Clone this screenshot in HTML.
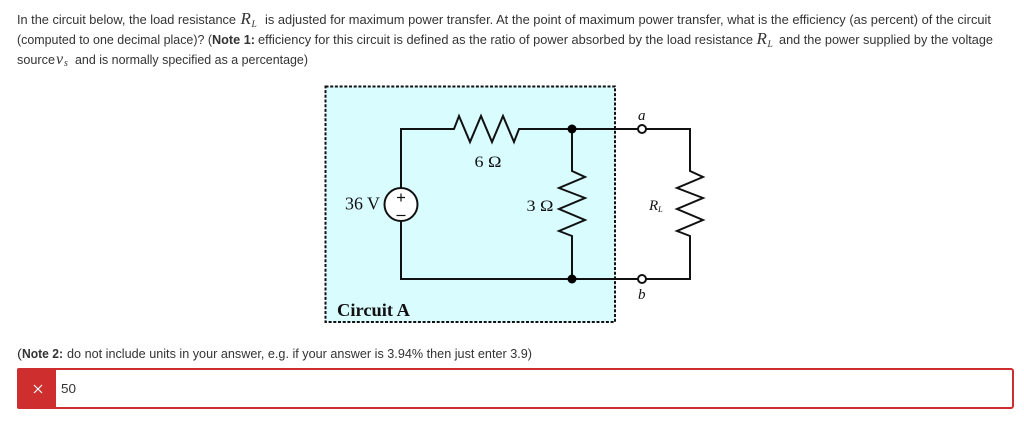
<!DOCTYPE html>
<html>
<head>
<meta charset="utf-8">
<style>
html,body{margin:0;padding:0;background:#fff;width:1024px;height:428px;overflow:hidden}
svg{display:block}
.t{font-family:"Liberation Sans",sans-serif;font-size:13px;fill:#333}
.b{font-weight:bold}
.m{font-family:"Liberation Serif",serif;font-style:italic;fill:#333}
.c{font-family:"Liberation Serif",serif;fill:#111}
.w{fill:none;stroke:#111;stroke-width:2;stroke-linejoin:miter}
</style>
</head>
<body>
<svg width="1024" height="428" viewBox="0 0 1024 428" xmlns="http://www.w3.org/2000/svg">
<rect width="1024" height="428" fill="#fff"/>

<text class="t" x="17" y="24" textLength="219" lengthAdjust="spacingAndGlyphs">In the circuit below, the load resistance</text>
<text class="m" x="240.500" y="24" font-size="17">R</text><text class="m" x="251.500" y="27" font-size="9.500">L</text>
<text class="t" x="265" y="24" textLength="726" lengthAdjust="spacingAndGlyphs">is adjusted for maximum power transfer. At the point of maximum power transfer, what is the efficiency (as percent) of the circuit</text>

<text class="t" x="17" y="44" textLength="195" lengthAdjust="spacingAndGlyphs">(computed to one decimal place)? (</text>
<text class="t b" x="212" y="44" textLength="43" lengthAdjust="spacingAndGlyphs">Note 1:</text>
<text class="t" x="258" y="44" textLength="495" lengthAdjust="spacingAndGlyphs">efficiency for this circuit is defined as the ratio of power absorbed by the load resistance</text>
<text class="m" x="756.500" y="44" font-size="17">R</text><text class="m" x="767.500" y="47" font-size="9.500">L</text>
<text class="t" x="779" y="44" textLength="214" lengthAdjust="spacingAndGlyphs">and the power supplied by the voltage</text>

<text class="t" x="17" y="64" textLength="38" lengthAdjust="spacingAndGlyphs">source</text>
<text class="m" x="56" y="64" font-size="16">v</text><text class="m" x="64" y="66" font-size="10">s</text>
<text class="t" x="75" y="64" textLength="233" lengthAdjust="spacingAndGlyphs">and is normally specified as a percentage)</text>

<!-- Circuit box -->
<rect x="325.500" y="86.500" width="289.500" height="235.500" fill="#d9fcff"/>
<rect x="325.500" y="86.500" width="289.500" height="235.500" fill="none" stroke="#111" stroke-width="2" stroke-dasharray="3 1.700"/>

<!-- Wires -->
<path class="w" d="M401 188V129H454L459 116L470 142L481 116L492 142L503 116L514 142L519 129H638"/>
<path class="w" d="M646 129H690V171L703 177L677 188L703 198L677 209L703 220L677 231L690 236V279H646"/>
<path class="w" d="M638 279H401V221"/>
<path class="w" d="M572 129V171L585 177L559 188L585 198L559 209L585 220L559 231L572 236V279"/>
<circle cx="572" cy="129" r="4.500" fill="#000"/>
<circle cx="572" cy="279" r="4.500" fill="#000"/>
<circle cx="642" cy="129" r="4" fill="#fff" stroke="#111" stroke-width="2"/>
<circle cx="642" cy="279" r="4" fill="#fff" stroke="#111" stroke-width="2"/>

<!-- Source -->
<circle cx="401" cy="204.500" r="16.500" fill="#fff" stroke="#111" stroke-width="2"/>
<path d="M397 197.500H405M401 193.500V201.500" stroke="#111" stroke-width="1.200" fill="none"/>
<path d="M396.500 215.500H405.500" stroke="#111" stroke-width="1.200" fill="none"/>

<!-- Labels -->
<text class="c" x="345" y="209.500" font-size="17.500" textLength="35" lengthAdjust="spacingAndGlyphs">36 V</text>
<text class="c" x="474.500" y="167" font-size="16" textLength="27" lengthAdjust="spacingAndGlyphs">6 Ω</text>
<text class="c" x="526.500" y="211" font-size="16" textLength="27" lengthAdjust="spacingAndGlyphs">3 Ω</text>
<text class="m" x="638" y="120" font-size="15" style="fill:#111">a</text>
<text class="m" x="638" y="299" font-size="15" style="fill:#111">b</text>
<text class="m" x="649" y="210" font-size="15" style="fill:#111">R</text>
<text class="m" x="658" y="212" font-size="8.500" style="fill:#111">L</text>
<text class="c" x="337" y="316" font-size="17.500" font-weight="bold" textLength="73" lengthAdjust="spacingAndGlyphs">Circuit A</text>

<!-- Note 2 -->
<text class="t" x="17" y="358" textLength="5" lengthAdjust="spacingAndGlyphs">(</text>
<text class="t b" x="22" y="358" textLength="41" lengthAdjust="spacingAndGlyphs">Note 2:</text>
<text class="t" x="67" y="358" textLength="465" lengthAdjust="spacingAndGlyphs">do not include units in your answer, e.g. if your answer is 3.94% then just enter 3.9)</text>

<!-- Input -->
<rect x="18" y="369" width="995" height="39" rx="2" fill="#fff" stroke="#cf2e2e" stroke-width="2"/>
<path d="M19 368H56V409H19Q17 409 17 407V370Q17 368 19 368Z" fill="#cf2e2e"/>
<path d="M34 385L42 393M42 385L34 393" stroke="#fff" stroke-width="1.200" fill="none"/>
<text class="t" x="61" y="393" textLength="15" lengthAdjust="spacingAndGlyphs">50</text>
</svg>
</body>
</html>
